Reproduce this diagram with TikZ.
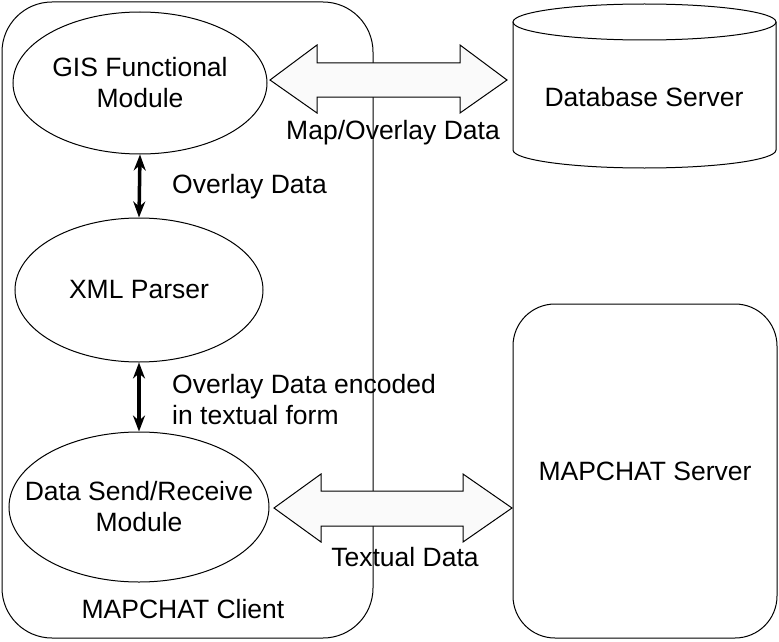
\documentclass[tikz,border=0pt]{standalone}
\usepackage{fontspec}
\setmainfont{Liberation Sans}
\usetikzlibrary{shapes.geometric,arrows.meta}
\begin{document}
\begin{tikzpicture}[x=1pt,y=-1pt,
  every node/.style={font=\fontsize{26.5}{31}\selectfont, align=center, inner sep=0pt},
  thin/.style={line width=1pt},
  oval/.style={draw, ellipse, line width=1pt, fill=white},
  blockarrow/.style={draw, fill=gray!4, line width=1pt, line join=miter},
  link/.style={{Stealth[length=16pt,width=12pt]}-{Stealth[length=16pt,width=12pt]}, line width=3.5pt}]
\useasboundingbox (0,0) rectangle (779,642);
% client container
\node[draw, thin, rounded corners=50pt, minimum width=371pt, minimum height=636pt] (client) at (187.5,320) {};
\node (clientlabel) at (183,609) {MAPCHAT Client};
% ellipses
\node[oval, minimum width=254pt, minimum height=142pt] (gis) at (140,83) {};
\node (gistext) at (gis.center) {GIS Functional\\Module};
\node[oval, minimum width=248pt, minimum height=144pt] (xml) at (139,290) {};
\node (xmltext) at (xml.center) {XML Parser};
\node[oval, minimum width=260pt, minimum height=150pt] (dsr) at (139,507) {};
\node (dsrtext) at (dsr.center) {Data Send/Receive\\Module};
% thick double arrows
\draw[link] (gis.south) -- (xml.north);
\draw[link] (xml.south) -- (dsr.north);
\node[anchor=west] (lab1) at (172,187) {Overlay Data};
\node[anchor=west, align=left] (lab2) at (172,400) {Overlay Data encoded\\in textual form};
% database cylinder
\draw[thin, fill=white] (513,22) -- (513,150) arc[start angle=180, end angle=360, x radius=131.5pt, y radius=18pt] -- (776,22);
\draw[thin] (644.5,22) ellipse [x radius=131.5pt, y radius=18pt];
\node (db) at (644,97) {Database Server};
% server
\node[draw, thin, rounded corners=42pt, minimum width=264pt, minimum height=334pt] (server) at (645,471) {MAPCHAT Server};
% block arrows
\draw[blockarrow] (270,80) -- (317,45) -- (317,63) -- (460,63) -- (460,45) -- (507,80) -- (460,113) -- (460,97) -- (317,97) -- (317,113) -- cycle;
\node (lab3) at (393,133) {Map/Overlay Data};
\draw[blockarrow] (274,508) -- (321,474) -- (321,491) -- (463,491) -- (463,474) -- (512,508) -- (463,542) -- (463,526) -- (321,526) -- (321,542) -- cycle;
\node (lab4) at (405,557) {Textual Data};
\end{tikzpicture}
\end{document}
